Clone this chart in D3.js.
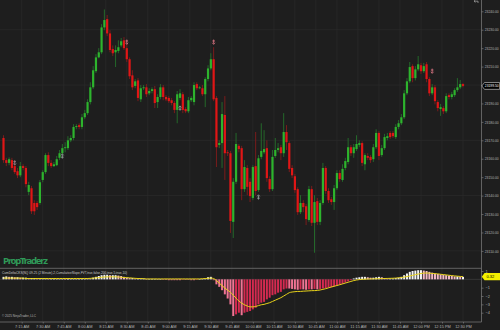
<!DOCTYPE html>
<html><head><meta charset="utf-8">
<script src="https://cdn.jsdelivr.net/npm/d3@7"></script>
<style>html,body{margin:0;padding:0;background:#1e1e1e;overflow:hidden}svg{display:block}</style>
</head><body><svg id="c" width="500" height="330"></svg>
<script>
// ---- data (2-minute bars, 7:02 AM .. 12:30 PM) ----
const opens = [
23171.25,23159.25,23157.75,23159.25,23156,23153.25,23151,23156,23155,23142,
23144,23136,23136,23136,23148.5,23152.75,23162,23157.75,23156,23156.5,
23160.5,23163,23165.75,23165.75,23170,23171.25,23177.25,23178.25,23177.25,23182.5,
23184.75,23190.75,23198.75,23207.5,23215,23217.75,23231.25,23235.75,23228,23219.5,
23217.75,23218.5,23221.5,23224.25,23220,23214,23205.25,23199.5,23202.5,23192.25,
23198.25,23198.75,23195.5,23196.75,23197.75,23190.75,23193.5,23198.75,23193.5,23193,
23191.75,23190.25,23186.5,23193,23195,23187,23185.75,23191.75,23190.75,23200.5,
23198.25,23198.25,23195,23203.25,23209,23214,23193,23167.5,23168.5,23183.75,
23163.5,23163,23125.75,23147.5,23167,23165.75,23143.5,23155,23147.5,23138.75,
23156,23143,23161,23163.5,23165.75,23149,23143.5,23161.5,23164.75,23166.25,
23163,23174.5,23168.5,23155,23150.5,23143.5,23131,23136,23134.25,23126.75,
23143.5,23125.25,23137,23125.75,23136,23155,23142.5,23138,23136.5,23144,
23152.25,23148.5,23155,23158.25,23166.25,23163,23165.25,23167.5,23168.5,23157,
23161.5,23161,23159.75,23166.25,23174,23162,23165.75,23171.25,23174,23174,
23171.75,23177.25,23179.25,23182.5,23195.5,23202,23210.25,23203.75,23208.5,23210.75,
23207.5,23211.25,23203.25,23195.5,23198.75,23190.75,23187,23187.5,23185.75,23194.5,
23193.5,23194.5,23197.25,23198.75,23200.5];
const highs = [
23172.75,23160.5,23160.75,23160.5,23157,23155,23158.25,23157,23156,23147.5,
23145.25,23137.5,23137,23148.5,23153.75,23163,23163.5,23159.25,23158.25,23161.5,
23164.75,23168,23169,23172.25,23172.75,23178.75,23178.75,23179.25,23184.25,23186.5,
23192.25,23201.5,23210.25,23216.75,23220,23233,23241,23238,23229.75,23221.5,
23221.5,23224.25,23225.5,23226,23222.25,23215,23208,23203.25,23203.75,23200,
23200,23200.5,23198.25,23198.75,23199.5,23195,23200.5,23200,23194.5,23194,
23193,23191.25,23196.75,23197.75,23196.25,23188,23193.5,23194,23201.5,23201.5,
23199.5,23200,23204.25,23210.75,23217.25,23220.5,23194,23170,23190.75,23194,
23164.75,23164.25,23149.5,23174,23168,23167,23159.25,23156.5,23149.5,23156.5,
23174.5,23162,23179.25,23175.5,23170,23150.5,23164.75,23171.25,23168.5,23167.5,
23184.75,23178.25,23169.5,23156.5,23151.75,23144.5,23140.25,23137.5,23135.5,23145.25,
23145.25,23140.25,23138.75,23137.5,23157.75,23156,23144,23139.25,23145.75,23153.75,
23153.75,23157,23160.5,23171.25,23167.5,23168,23172.75,23170,23169.5,23163,
23163,23162,23168,23176,23175,23167.5,23173.5,23174,23175,23175,
23178.75,23181,23184.25,23197.25,23203.75,23212.5,23211.25,23210.25,23215.75,23212,
23212,23212.5,23204.25,23200.5,23200,23191.75,23189.75,23188.5,23195.5,23195.5,
23196.25,23198.25,23203.75,23202.75,23201];
const lows = [
23157.75,23156,23156.5,23153.75,23151.75,23149.5,23150,23153.75,23144.5,23140.25,
23130,23129.5,23132.25,23135,23147.25,23151.75,23156,23155,23155.5,23156,
23159.25,23162,23163.5,23164.75,23169,23170,23176,23176,23176,23181.5,
23183.75,23189.5,23197.75,23206.5,23214.5,23216.75,23229.75,23226.5,23217.75,23215.75,
23209.75,23217.25,23220.5,23219,23212.5,23203.25,23197.25,23198.25,23191.25,23190.75,
23197.25,23193.5,23194.5,23195.5,23187.5,23187.5,23192.25,23191.75,23191.25,23190.25,
23189,23184.75,23179.25,23191.75,23184.75,23184.75,23184.75,23190.75,23189,23197.25,
23197.75,23194,23188,23202,23208,23191.25,23155.5,23165.75,23155,23148.5,
23161.5,23119.75,23117,23146.25,23163.5,23137.5,23142,23140.25,23136.5,23137.5,
23140.25,23142,23159.75,23162.5,23147.5,23142,23142.5,23160.5,23163.5,23159.25,
23161,23164.75,23152.75,23149.5,23141.5,23129.5,23130,23131,23124,23125.75,
23123.5,23109,23124,23124,23135,23141,23136,23135,23132.25,23143,
23147.5,23147.5,23153.75,23157,23161.5,23160.5,23164.25,23166.25,23156,23153.75,
23159.25,23157.75,23158.25,23165.25,23159.25,23161,23164.75,23170,23170.75,23171.25,
23170.75,23176,23178.25,23181.5,23194.5,23201,23201.5,23202.5,23207.5,23206,
23206.5,23201.5,23194,23194.5,23189.5,23185.75,23183.25,23184.25,23184.75,23192.25,
23192.25,23193.5,23196.25,23197.75,23198.75];
const closes = [
23159.25,23157.75,23159.75,23155,23152.75,23151,23156,23155,23146.25,23145.75,
23131.5,23131.5,23133.75,23147.25,23152.75,23162,23157.75,23156,23157,23159.75,
23163,23165.75,23166.25,23170,23171.25,23177.25,23177.75,23177.25,23182.5,23184.75,
23190.75,23198.75,23208,23215,23217.75,23231.25,23235.25,23228,23219,23217.25,
23219,23220.5,23223.75,23220,23214,23204.75,23198.75,23202,23193,23198.25,
23198.75,23195,23196.75,23197.75,23190.25,23193.5,23198.75,23193.5,23192.25,23191.25,
23190.25,23186.5,23195,23195.5,23186.5,23185.75,23191.75,23193,23200,23198.25,
23198.75,23195,23203.25,23209,23214,23192.25,23166.25,23168.5,23184.25,23163,
23163,23126.25,23147.5,23168,23165.25,23143.5,23155.5,23144.75,23139.75,23155.5,
23142.5,23160.25,23164.25,23165.25,23149.5,23143.5,23161,23164.75,23165.75,23163,
23174.5,23169,23154.5,23151,23143,23131,23136,23133.75,23127.25,23143.5,
23125.25,23136.5,23125.75,23136,23155,23142.5,23137.5,23136.5,23144,23152.25,
23149,23154.5,23158.75,23166.25,23163,23166.25,23168,23168.5,23157.75,23162,
23160.5,23159.25,23166.25,23174,23161.5,23165.75,23171.75,23172.25,23171.75,23172.25,
23177.25,23179.25,23182.5,23195.5,23202,23209.75,23203.75,23208.5,23211.25,23207.5,
23210.25,23203.25,23195.5,23198.75,23191.25,23187.5,23188,23185.75,23194,23193.5,
23195,23197.25,23198.75,23200.5,23199.5];
// cumulative delta histogram (lower panel)
const delta = [
0.3,0.35,0.3,0.3,0.25,0.25,0.2,0.2,0.2,0.15,0.15,0.15,0.1,0.1,0.1,0.1,
0.05,0.05,0.05,0.05,0.05,0.05,0,0,0.05,0.05,0.05,0.05,0.05,0.05,0.1,
0.1,0.2,0.3,0.4,0.5,0.55,0.55,0.5,0.5,0.5,0.45,0.4,0.3,0.2,
0.15,0.15,0.1,0.1,0.1,0.1,0.05,0.05,0.05,0.05,0,0,-0.05,-0.05,-0.1,-0.1,-0.1,-0.1,-0.1,-0.05,-0.05,-0.05,-0.1,-0.1,-0.05,0,0.05,0.1,0.25,0.3,
-0.1,-0.6,-0.9,-1.3,-1.8,-2.3,-3.0,-4.4,-4.2,-4.0,
-4.3,-4.0,-3.9,-3.8,-3.6,-3.4,-3.0,-2.8,-2.7,-2.4,
-2.2,-1.9,-1.8,-1.6,-1.5,-1.2,-1.1,-1.1,-1.15,-1.2,
-1.25,-1.2,-1.2,-1.25,-1.2,-1.2,-1.15,-1.2,-1.15,-1.1,
-1.05,-1.0,-0.95,-0.85,-0.75,-0.65,-0.55,-0.4,-0.25,-0.1,
0.1,0.2,0.25,0.3,0.3,0.25,0.2,0.2,0.25,0.3,
0.25,0.15,0.1,0.1,0.1,0.15,0.2,0.3,0.5,0.7,
0.9,1.0,1.05,1.1,1.1,1.05,1.0,0.9,0.8,0.7,
0.65,0.6,0.55,0.5,0.45,0.4,0.35,0.35,0.3,0.3];
// slope / signal line (yellow)
const signal = [
0.15,0.15,0.15,0.15,0.15,0.15,0.15,0.15,0.1,0.1,0.1,0.1,0.1,0.1,0.1,0.1,
0.1,0.1,0.1,0.1,0.1,0.1,0.1,0.1,0.1,0.1,0.1,0.1,0.1,0.1,0.1,
0.12,0.15,0.18,0.2,0.25,0.28,0.3,0.3,0.3,0.3,0.28,0.25,0.22,0.2,
0.18,0.15,0.12,0.1,0.1,0.08,0.05,0.05,0.05,0.05,0.05,0.05,0.05,0.05,0.05,0.05,
0.05,0.05,0.05,0.05,0.05,0.05,0.05,0.05,0.05,0.05,0.08,0.1,0.12,0.15,
0.1,-0.15,-0.45,-0.75,-1.05,-1.3,-1.55,-1.9,-2.25,-2.6,
-2.85,-3.05,-3.2,-3.3,-3.3,-3.25,-3.15,-3.05,-3.0,-2.9,
-2.8,-2.65,-2.5,-2.35,-2.2,-2.0,-1.8,-1.6,-1.52,-1.48,
-1.45,-1.45,-1.42,-1.4,-1.38,-1.36,-1.35,-1.33,-1.28,-1.2,
-1.12,-1.02,-0.92,-0.83,-0.74,-0.65,-0.55,-0.45,-0.35,-0.25,
-0.15,-0.08,-0.03,0,0.02,0.04,0.05,0.06,0.07,0.08,
0.09,0.1,0.11,0.12,0.13,0.15,0.18,0.22,0.27,0.33,
0.4,0.48,0.56,0.63,0.7,0.75,0.76,0.74,0.71,0.68,
0.65,0.61,0.57,0.53,0.49,0.45,0.41,0.38,0.35,0.32];
const priceTicks = [23240,23230,23220,23210,23200,23190,23180,23170,23160,23150,23140,23130,23120,23110];
const gridPrices = [23230,23200,23170,23140,23110];
const deltaTicks = [1,-1,-2,-3,-4];
const timeLabels = ["7:15 AM","7:30 AM","7:45 AM","8:00 AM","8:15 AM","8:30 AM","8:45 AM","9:00 AM","9:15 AM","9:30 AM","9:45 AM","10:00 AM","10:15 AM","10:30 AM","10:45 AM","11:00 AM","11:15 AM","11:30 AM","11:45 AM","12:00 PM","12:15 PM","12:30 PM"];
const lastPrice = 23199.50;
const downMarks = [[4,23157.75],[44,23223.25],[75,23223.25],[153,23207.5]];
const upMarks = [[21,23161.5],[63,23187.5],[91,23139.25]];
const titleText = "CumDeltaCKS(NQ 09-25 (2 Minute),2,CumulativeSlope,FVT,true,false,200,true,5,true,10)";

// ---- drawing ----
const svg = d3.select("#c");
const FONT = "'Liberation Sans', Arial, sans-serif";
const axisX = 481.5, sepY = 268.3, botY = 322;
const at = (h,m)=>new Date(2025,6,15,h,m);
const times = opens.map((_,i)=>new Date(at(7,2).getTime()+i*120000));
const parseT = d3.timeParse("%I:%M %p");
const tickDates = timeLabels.map(s=>{const t=parseT(s);return at(t.getHours(),t.getMinutes());});
const x = d3.scaleTime().domain([at(7,0),at(12,30)]).range([0.7,463]);
const y = d3.scaleLinear().domain([23240,23110]).range([11.3,250.9]);
const yd = d3.scaleLinear().domain([1,-4]).range([271,312.7]);

svg.append("rect").attr("width",500).attr("height",330).attr("fill","#1e1e1e");
const defs = svg.append("defs");
defs.append("clipPath").attr("id","cp").append("rect").attr("x",0).attr("y",0).attr("width",axisX).attr("height",sepY);
defs.append("clipPath").attr("id","cl").append("rect").attr("x",0).attr("y",sepY+0.5).attr("width",axisX).attr("height",botY-sepY-1);

// grid
const grid = svg.append("g").attr("stroke","#2b2b2b").attr("stroke-width",0.7);
grid.selectAll(".v").data(tickDates).join("line").attr("x1",d=>x(d)).attr("x2",d=>x(d)).attr("y1",0).attr("y2",botY);
grid.selectAll(".h").data(gridPrices).join("line").attr("x1",0).attr("x2",axisX).attr("y1",d=>y(d)).attr("y2",d=>y(d));

// candles
const cg = svg.append("g").attr("clip-path","url(#cp)");
const idx = d3.range(opens.length);
const up = i=>closes[i]>=opens[i];
cg.selectAll(".w").data(idx).join("line")
  .attr("x1",i=>x(times[i])).attr("x2",i=>x(times[i]))
  .attr("y1",i=>y(highs[i])).attr("y2",i=>y(lows[i]))
  .attr("stroke",i=>up(i)?"#24682a":"#7a1c1c").attr("stroke-width",1);
cg.selectAll(".b").data(idx).join("rect")
  .attr("x",i=>x(times[i])-1.1).attr("width",2.2)
  .attr("y",i=>y(Math.max(opens[i],closes[i])))
  .attr("height",i=>Math.max(0.8,Math.abs(y(opens[i])-y(closes[i]))))
  .attr("fill",i=>up(i)?"#2db42d":"#e01616");

// markers
function arrow(g,cx,cy,dir,col){
  const s=dir; // -1 up, 1 down
  g.append("path").attr("d",`M${cx},${cy-2.6*s} L${cx},${cy+1.4*s} M${cx-1.3},${cy-1.2*s} L${cx+1.3},${cy-1.2*s} M${cx-1.3},${cy+0.6*s} L${cx},${cy+2.2*s} L${cx+1.3},${cy+0.6*s}`)
   .attr("stroke",col).attr("stroke-width",0.9).attr("fill","none");
}
const mg = svg.append("g");
downMarks.forEach(([i,p])=>arrow(mg,x(times[i]),y(p),1,i===4?"#a08088":"#d0707e"));
upMarks.forEach(([i,p])=>arrow(mg,x(times[i]),y(p),-1,"#8e9a96"));

// watermark
svg.append("text").attr("x",3).attr("y",264).attr("font-family","'Noto Sans', 'Liberation Sans', sans-serif")
  .attr("font-weight","bold").attr("font-size",9.6).attr("fill","#2f9a58").attr("textLength",45).text("PropTraderz");

// panel separators
svg.append("line").attr("x1",0).attr("x2",axisX).attr("y1",sepY).attr("y2",sepY).attr("stroke","#6a6a6a").attr("stroke-width",0.9);
svg.append("line").attr("x1",0).attr("x2",axisX).attr("y1",botY).attr("y2",botY).attr("stroke","#6a6a6a").attr("stroke-width",0.9);
svg.append("line").attr("x1",axisX).attr("x2",axisX).attr("y1",0).attr("y2",botY).attr("stroke","#6a6a6a").attr("stroke-width",0.9);

// lower panel
const lg = svg.append("g").attr("clip-path","url(#cl)");
lg.append("line").attr("x1",0).attr("x2",axisX).attr("y1",yd(0)).attr("y2",yd(0)).attr("stroke","#444").attr("stroke-width",0.6);
function hcol(i){
  const v=delta[i], pv=i>0?delta[i-1]:v;
  if(v>=0) return v>=pv?"#f4f4f4":"#f2b8c6";
  return v<=pv?"#f07494":"#d42a50";
}
lg.selectAll(".hb").data(idx).join("rect")
  .attr("x",i=>x(times[i])-1).attr("width",2)
  .attr("y",i=>Math.min(yd(0),yd(delta[i])))
  .attr("height",i=>Math.max(0.5,Math.abs(yd(delta[i])-yd(0))))
  .attr("fill",hcol);
lg.append("path").datum(idx)
  .attr("d",d3.line().x(i=>x(times[i])).y(i=>yd(signal[i])).curve(d3.curveMonotoneX))
  .attr("fill","none").attr("stroke","#e8d21a").attr("stroke-width",1);

svg.append("text").attr("x",2).attr("y",274).attr("font-family",FONT).attr("font-size",3.8)
  .attr("fill","#c8c8c8").attr("textLength",125).attr("lengthAdjust","spacingAndGlyphs").text(titleText);
svg.append("text").attr("x",2).attr("y",317.3).attr("font-family",FONT).attr("font-size",3.9)
  .attr("fill","#b8b8b8").attr("textLength",34).attr("lengthAdjust","spacingAndGlyphs").text("© 2025 NinjaTrader, LLC");

// axes
function styleAxis(g, fit){
  g.select(".domain").remove();
  g.selectAll("line").attr("stroke","#8a8a8a").attr("stroke-width",0.6);
  const t = g.selectAll("text").attr("fill","#b4b4b4").attr("font-family",FONT).attr("font-size",3.9);
  if(fit) t.attr("textLength",fit).attr("lengthAdjust","spacingAndGlyphs");
}
svg.append("g").attr("transform",`translate(${axisX},0)`)
  .call(d3.axisRight(y).tickValues(priceTicks).tickSize(2).tickPadding(1.2).tickFormat(d3.format(".2f")))
  .call(g=>styleAxis(g,14));
svg.append("g").attr("transform",`translate(${axisX},0)`)
  .call(d3.axisRight(yd).tickValues(deltaTicks).tickSize(2).tickPadding(2).tickFormat(d3.format("d")))
  .call(g=>styleAxis(g,null));
svg.append("g").attr("transform",`translate(0,${botY})`)
  .call(d3.axisBottom(x).tickValues(tickDates).tickSize(1.5).tickPadding(1.3).tickFormat(d3.timeFormat("%-I:%M %p")))
  .call(g=>styleAxis(g,null));

// last price label
const lp = y(lastPrice);
svg.append("path").attr("d",`M${axisX+0.3},${lp} L${axisX+3},${lp-3.4} L499.6,${lp-3.4} L499.6,${lp+3.4} L${axisX+3},${lp+3.4} Z`)
  .attr("fill","#000").attr("stroke","#d8d8d8").attr("stroke-width",0.6);
svg.append("text").attr("x",484.8).attr("y",lp+1.4).attr("font-family",FONT).attr("font-size",3.9).attr("fill","#fff")
  .attr("textLength",13.8).attr("lengthAdjust","spacingAndGlyphs").text(d3.format(".2f")(lastPrice));

// last signal label
const ls = yd(signal[signal.length-1]);
svg.append("path").attr("d",`M${axisX+0.3},${ls} L${axisX+3},${ls-3.6} L500,${ls-3.6} L500,${ls+3.6} L${axisX+3},${ls+3.6} Z`)
  .attr("fill","#f4f000");
svg.append("text").attr("x",486.5).attr("y",ls+1.4).attr("font-family",FONT).attr("font-size",4).attr("fill","#000").text(d3.format(".2f")(signal[signal.length-1]));

// top-right icon
svg.append("path").attr("d","M474,1.2 L478,1.2 M474,1.2 L475.4,0 M474,1.2 L475.4,2.4 M478,1.2 L478,3")
  .attr("stroke","#9a9a9a").attr("stroke-width",0.8).attr("fill","none");
</script></body></html>
